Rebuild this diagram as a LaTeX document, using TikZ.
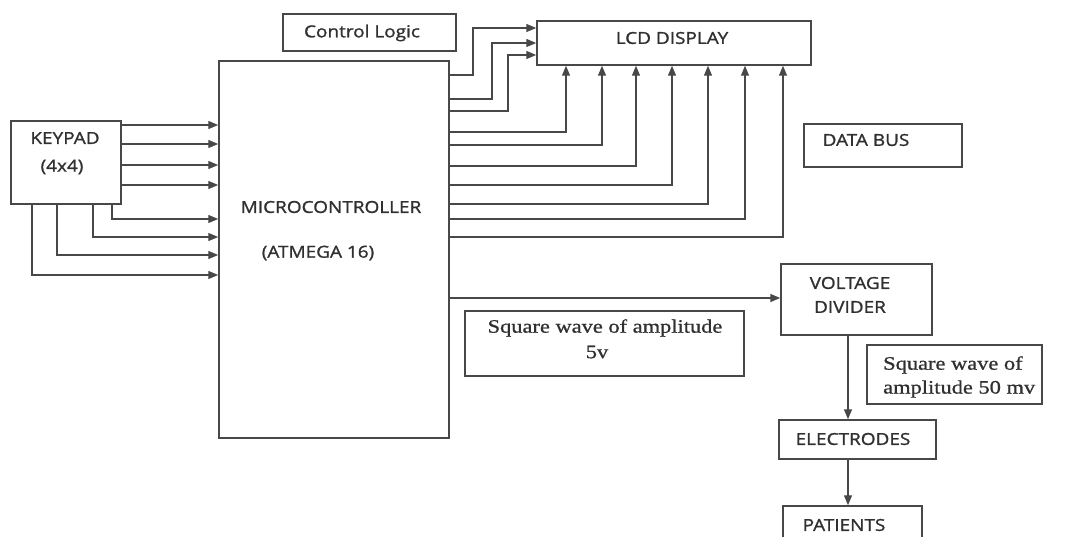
\documentclass[tikz,border=0pt]{standalone}
\usepackage{fontspec}
\setmainfont{Liberation Serif}[FakeStretch=1.18,FakeBold=0.9]
\newfontfamily\boxfont{Open Sans}[FakeStretch=1.15,FakeBold=1.3]
\usetikzlibrary{arrows.meta}
\definecolor{linec}{HTML}{484848}
\definecolor{textc}{HTML}{303030}
\tikzset{
  box/.style={draw=linec, line width=1.5pt, rectangle, inner sep=0pt},
  lbl/.style={text=textc, inner sep=0pt, font=\boxfont\fontsize{16.5}{19}\selectfont},
  ser/.style={text=textc, inner sep=0pt, font=\fontsize{19}{22}\selectfont},
  wire/.style={draw=linec, line width=1.4pt},
  arr/.style={wire, -{Triangle[length=10pt,width=8pt]}}
}
\begin{document}
\begin{tikzpicture}[x=1pt,y=-1pt]
\useasboundingbox (0,0) rectangle (1068,537);
\begin{scope}
\clip (0,0) rectangle (1068,537);
% boxes
\node[box, minimum width=110pt, minimum height=83pt] (kp) at (66,162.5) {};
\node[box, minimum width=230pt, minimum height=377pt] (mcu) at (334,249.5) {};
\node[box, minimum width=173pt, minimum height=37pt] (cl) at (369.5,32.5) {};
\node[box, minimum width=274pt, minimum height=44pt] (lcd) at (674,43) {};
\node[box, minimum width=158pt, minimum height=43pt] (db) at (883,145.5) {};
\node[box, minimum width=151pt, minimum height=71pt] (vd) at (856.5,299.5) {};
\node[box, minimum width=279pt, minimum height=65pt] (sq5) at (604.5,343.5) {};
\node[box, minimum width=175pt, minimum height=59pt] (sq50) at (954.5,374.5) {};
\node[box, minimum width=157pt, minimum height=39pt] (el) at (857.5,439.5) {};
\node[box, minimum width=139pt, minimum height=54pt] (pt) at (852.5,533) {};
% labels
\node[lbl] (kpa) at (65,138) {KEYPAD};
\node[lbl] (kpb) at (62,167) {(4x4)};
\node[lbl] (mca) at (331,207) {MICROCONTROLLER};
\node[lbl] (mcb) at (318,253) {(ATMEGA 16)};
\node[lbl] (cla) at (362,33) {Control Logic};
\node[lbl] (lcda) at (672,38) {LCD DISPLAY};
\node[lbl] (dba) at (866,140) {DATA BUS};
\node[lbl] (vda) at (850,283) {VOLTAGE};
\node[lbl] (vdb) at (850,307) {DIVIDER};
\node[lbl] (ela) at (853,439) {ELECTRODES};
\node[lbl] (pta) at (844,525) {PATIENTS};
\node[ser] (s5a) at (605,328) {Square wave of amplitude};
\node[ser] (s5b) at (597,352) {5v};
\node[ser, anchor=west] (s50a) at (883,365) {Square wave of};
\node[ser, anchor=west] (s50b) at (883,389) {amplitude 50 mv};
% keypad to microcontroller
\foreach \yy in {125,144,165,185}
  \draw[arr] (kp.east |- 0,\yy) -- (mcu.west |- 0,\yy);
\foreach \xx/\yy in {112/219,93/237,57/255,32/275}
  \draw[arr] (kp.south -| \xx,0) |- (mcu.west |- 0,\yy);
% control lines to LCD
\foreach \ya/\xx/\yb in {75/473/28,99/492/43,111/508/55}
  \draw[arr] (mcu.east |- 0,\ya) -| (\xx,\yb) -- (lcd.west |- 0,\yb);
% data bus lines
\foreach \yy/\xx in {132/566,145/602,166/636,185/672,204/708,219/745,237/783}
  \draw[arr] (mcu.east |- 0,\yy) -| (lcd.south -| \xx,0);
% output chain
\draw[arr] (mcu.east |- 0,298) -- (vd.west |- 0,298);
\draw[arr] (vd.south -| 848,0) -- (el.north -| 848,0);
\draw[arr] (el.south -| 848,0) -- (pt.north -| 848,0);
\end{scope}
\end{tikzpicture}
\end{document}
